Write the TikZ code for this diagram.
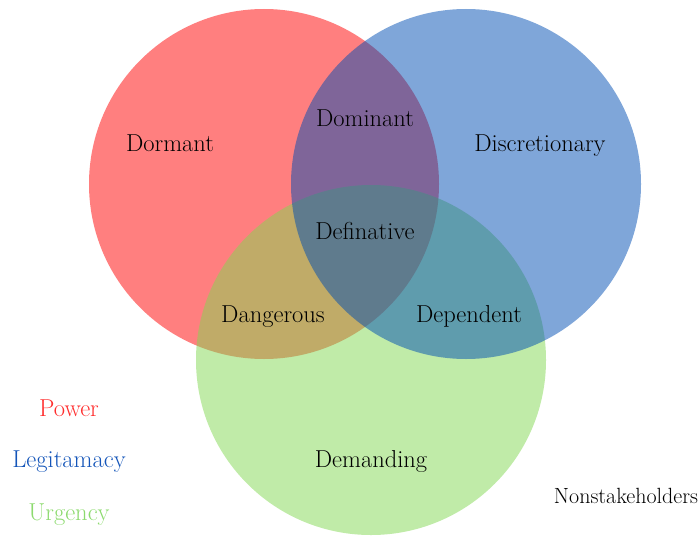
\documentclass[tikz,border=0pt]{standalone}
\definecolor{cred}{RGB}{255,0,0}
\definecolor{cblue}{RGB}{0,77,179}
\definecolor{cgreen}{RGB}{129,215,81}
\definecolor{tred}{RGB}{255,45,45}
\definecolor{tblue}{RGB}{20,85,185}
\definecolor{tgreen}{RGB}{140,218,110}
\begin{document}
\begin{tikzpicture}[x=1pt,y=-1pt,
  setc/.style={circle,minimum size=350pt,inner sep=0pt,draw=none,fill opacity=0.5},
  lbl/.style={anchor=base,inner sep=0pt,font=\fontsize{24.5}{28}\selectfont},
  small/.style={anchor=base,inner sep=0pt,font=\fontsize{22}{26}\selectfont}]
\useasboundingbox (0,0) rectangle (700,535);
\node[setc,fill=cred]   (power) at (264,184) {};
\node[setc,fill=cgreen] (urg)   at (371,360) {};
\node[setc,fill=cblue]  (leg)   at (466,184) {};
\node[lbl] (dormant) at (170,151) {Dormant};
\node[lbl] (dominant) at (365,126) {Dominant};
\node[lbl] (discr) at (540,151) {Discretionary};
\node[lbl] (defin) at (365,239) {Definative};
\node[lbl] (dang) at (273,322) {Dangerous};
\node[lbl] (dep) at (469,322) {Dependent};
\node[lbl] (dem) at (371,467) {Demanding};
\node[lbl,text=tred] (lp) at (69,416) {Power};
\node[lbl,text=tblue] (ll) at (69,467) {Legitamacy};
\node[lbl,text=tgreen] (lu) at (69,520) {Urgency};
\node[small] (non) at (626,503) {Nonstakeholders};
\end{tikzpicture}
\end{document}
